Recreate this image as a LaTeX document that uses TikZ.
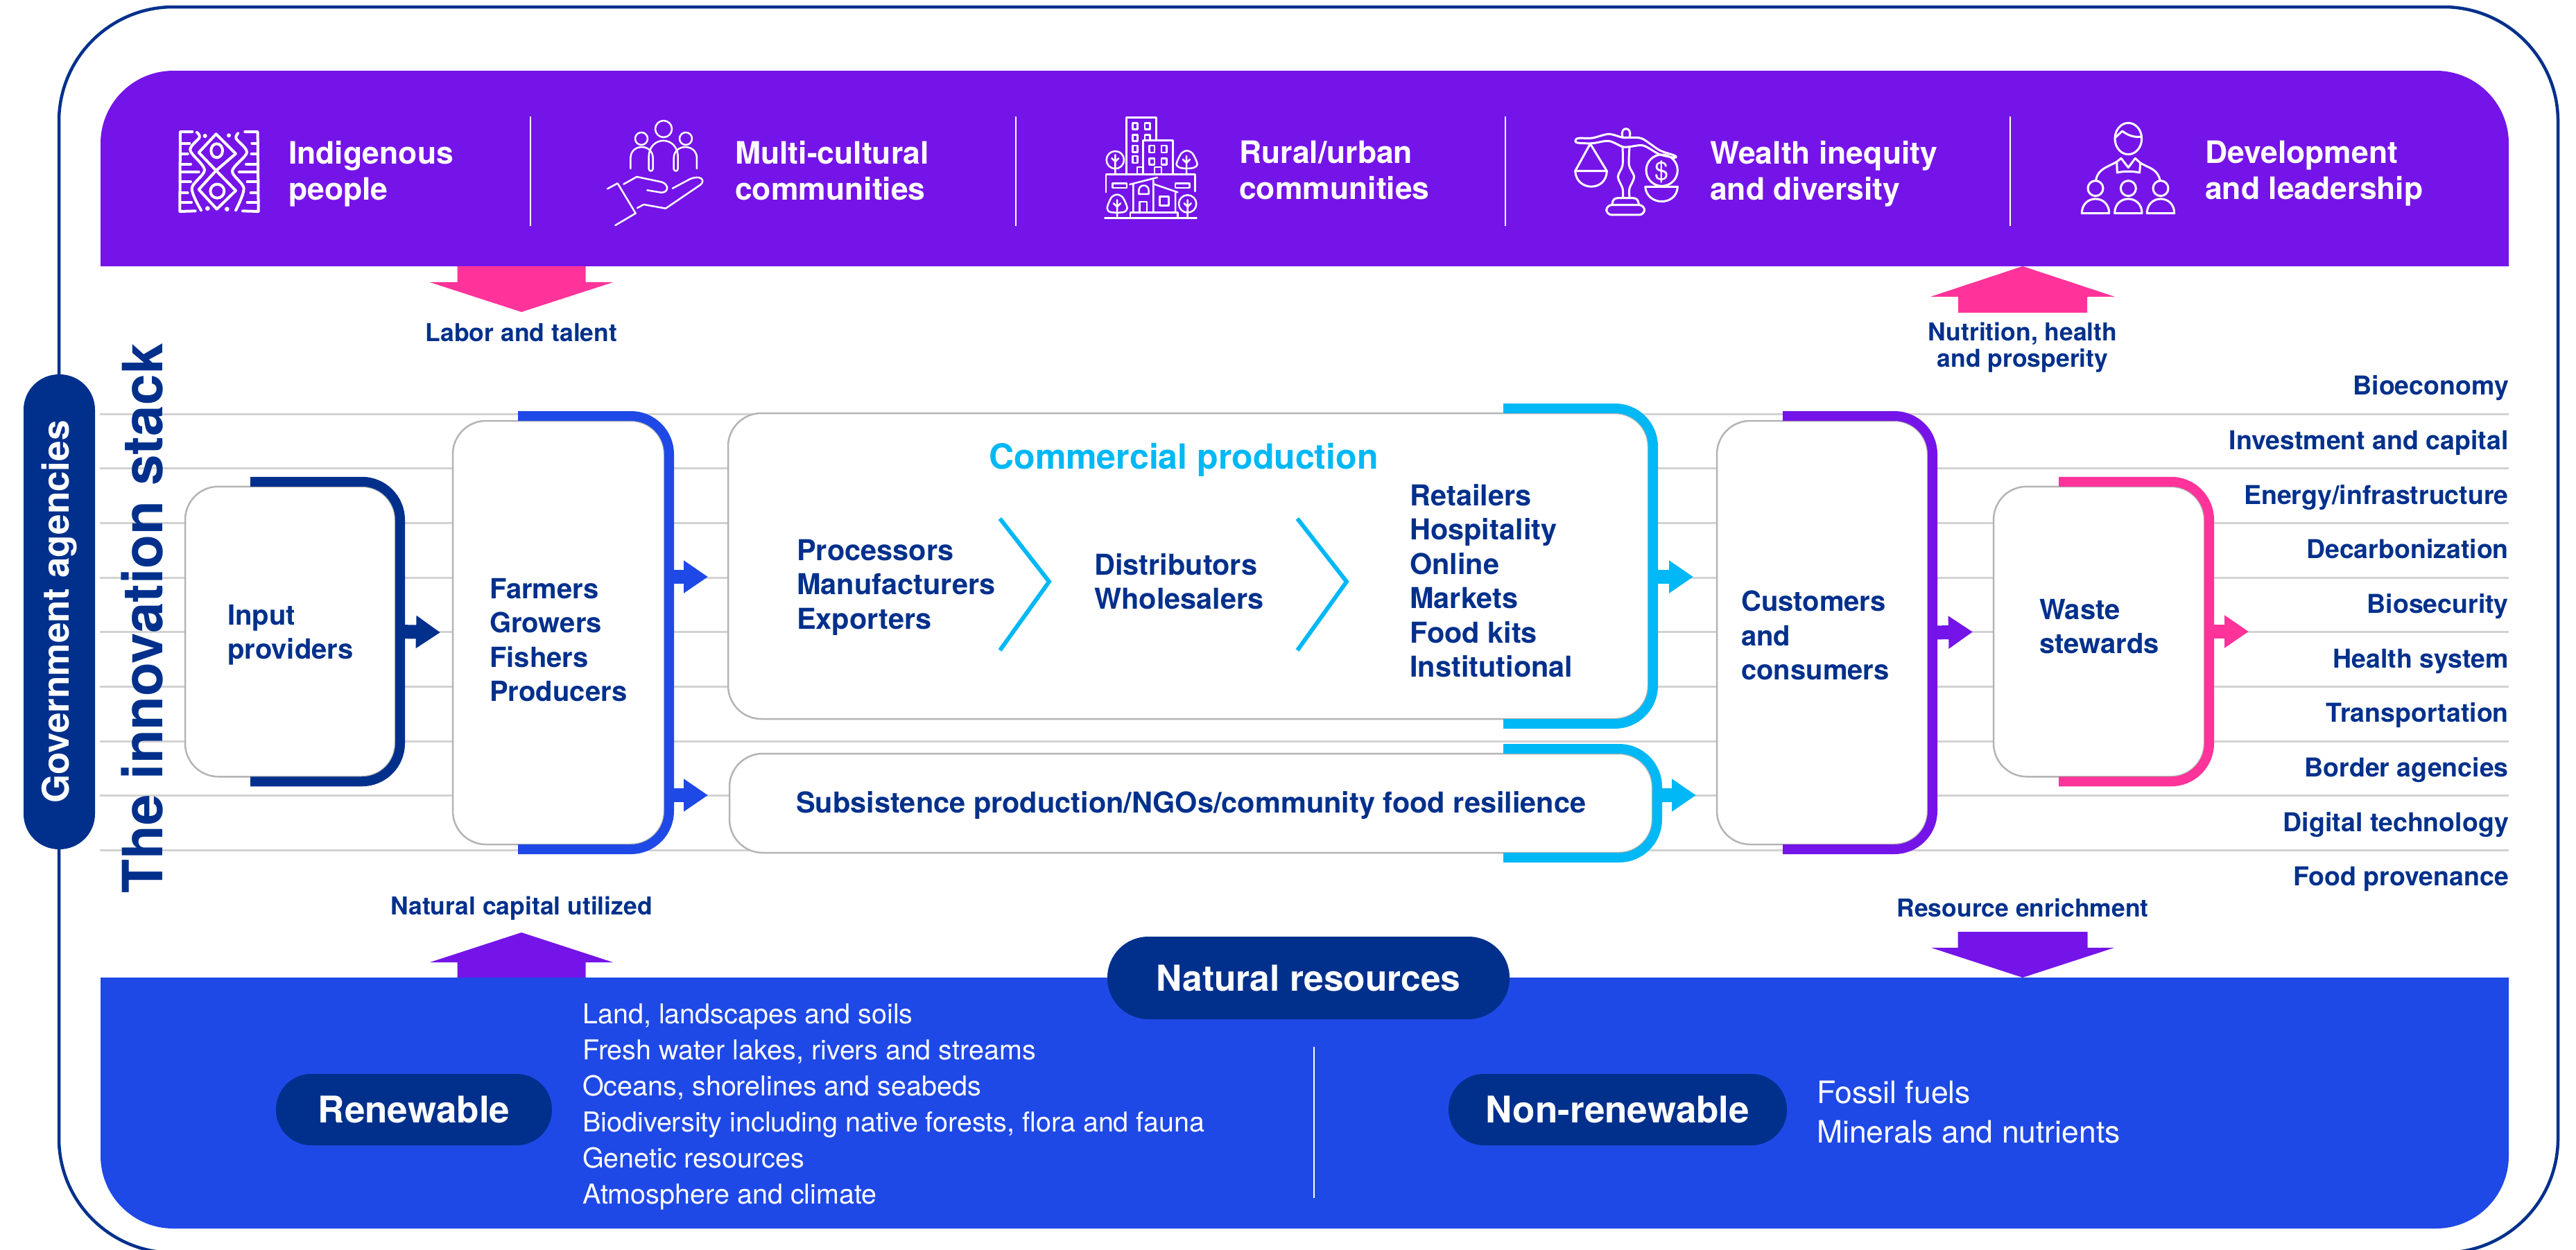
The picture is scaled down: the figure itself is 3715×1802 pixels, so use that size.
\documentclass[tikz,border=0pt]{standalone}
\usepackage{fontspec}
\setmainfont{TeX Gyre Heros}
\usetikzlibrary{arrows.meta}
\definecolor{stacknavy}{HTML}{00308C}
\definecolor{stackblue}{HTML}{1F49E6}
\definecolor{stackpurple}{HTML}{7514E8}
\definecolor{stackpink}{HTML}{FF3399}
\definecolor{stackcyan}{HTML}{00B8F5}
\definecolor{stackgrey}{HTML}{D2D2D2}
\definecolor{boxgrey}{HTML}{B4B4B4}
\tikzset{
  stackbox/.style={draw=boxgrey,fill=white,line width=2.5pt,rounded corners=48pt,outer sep=7pt,inner sep=0pt},
  bandline/.style={line width=14pt,rounded corners=55pt},
  flow/.style={line width=20pt,-{Triangle[length=35pt,width=45pt]},#1},
  boxtext/.style={anchor=north west,align=left,inner sep=0pt,text=stacknavy,font=\fontsize{40}{49.5}\selectfont\bfseries},
  commercialtext/.style={boxtext,font=\fontsize{41.5}{49.5}\selectfont\bfseries},
  flowtext/.style={align=center,inner sep=0pt,text=stacknavy,font=\fontsize{35.5}{38}\selectfont\bfseries},
  headtext/.style={anchor=north west,align=left,inner sep=0pt,text=white,font=\fontsize{44.5}{52}\selectfont\bfseries},
  listtext/.style={anchor=west,align=left,inner sep=0pt,text=white,font=\fontsize{39.5}{52}\selectfont},
  pilltext/.style={fill=stacknavy,text=white,inner sep=0pt,font=\fontsize{53}{53}\selectfont\bfseries},
  icon/.style={draw=white,line width=#1,line cap=round,line join=round},
}
\begin{document}
\begin{tikzpicture}[x=1pt,y=-1pt]
  \path[fill=white,use as bounding box] (0,0) rectangle (3715,1802);
  \draw[stacknavy,line width=4.5pt,rounded corners=165pt] (85,10) rectangle (3689,1807);
  % top and bottom bands
  \fill[stackpurple] (145,384) [rounded corners=105pt] -- (145,102) -- (3618,102) [sharp corners] -- (3618,384) -- cycle;
  \fill[stackblue] (145,1410) [rounded corners=105pt] -- (145,1772) -- (3618,1772) [sharp corners] -- (3618,1410) -- cycle;
  \foreach \x in {765,1465,2171,2899}
    \draw[white,line width=2pt] (\x,168) -- (\x,326);
  \draw[white,line width=2pt] (1895,1510) -- (1895,1728);
  \foreach \x/\t [count=\i] in {416/{Indigenous\\people},1060/{Multi-cultural\\communities},1787/{Rural/urban\\communities},2466/{Wealth inequity\\and diversity},3180/{Development\\and leadership}}
    \node[headtext] (head\i) at (\x,203) {\t};
  % big arrows
  \foreach \c/\x/\a/\b/\d/\s/\w in {
    stackpink/752/384/407/450/92.5/132.5,
    stackpink/2917/451/428/384/93/133,
    stackpurple/752/1410/1388/1345/92.5/132,
    stackpurple/2917/1344/1367/1410/93.5/132}
    \fill[\c] (\x-\s,\a) -- (\x-\s,\b) -- (\x-\w,\b) -- (\x,\d) -- (\x+\w,\b) -- (\x+\s,\b) -- (\x+\s,\a) -- cycle;
  \node[flowtext] (labor) at (752,480) {Labor and talent};
  \node[flowtext] (nutrition) at (2917,501) {Nutrition, health\\and prosperity};
  \node[flowtext] (capital) at (752,1310) {Natural capital utilized};
  \node[flowtext] (enrichment) at (2917,1309) {Resource enrichment};
  % the stack
  \foreach \i in {0,...,8}
    \draw[stackgrey,line width=3pt] (144,{597+78.7*\i}) -- (3618,{597+78.7*\i});
  \node[pilltext,rotate=90,minimum width=685pt,minimum height=103pt,rounded corners=51pt] (government) at (85.5,882.5) {Government agencies};
  \node[inner sep=0pt,anchor=base,rotate=90,text=stacknavy,font=\fontsize{80}{80}\selectfont\bfseries] (title) at (234,892) {The innovation stack};
  \foreach \t [count=\i] in {Bioeconomy,Investment and capital,Energy/infrastructure,Decarbonization,Biosecurity,Health system,Transportation,Border agencies,Digital technology,Food provenance}
    \node[anchor=mid east,inner sep=0pt,text=stacknavy,font=\fontsize{37.5}{40}\selectfont\bfseries] (sector\i) at (3618,{567+78.7*(\i-1)}) {\t};
  \node[stackbox,minimum width=303pt,minimum height=418.5pt] (input) at (418.5,911) {};
  \node[stackbox,minimum width=305pt,minimum height=611pt] (farmers) at (805.5,912.5) {};
  \node[stackbox,minimum width=1327pt,minimum height=441pt] (commercial) at (1713.5,816.5) {};
  \node[stackbox,minimum width=1331pt,minimum height=143pt] (subsistence) at (1717.5,1158.5) {};
  \node[stackbox,minimum width=304pt,minimum height=611pt] (customers) at (2628,912.5) {};
  \node[stackbox,minimum width=304pt,minimum height=418.5pt] (waste) at (3027,911) {};
  \foreach \n/\c/\s in {input/stacknavy/361,farmers/stackblue/747,commercial/stackcyan/2168,subsistence/stackcyan/2168,customers/stackpurple/2571,waste/stackpink/2969}
    \draw[bandline,\c] (\s,0 |- \n.north) -- (\n.north east) -- (\n.south east) -- (\s,0 |- \n.south);
  \coordinate (upperflow) at (0,832);
  \coordinate (lowerflow) at (0,1147);
  \coordinate (wasteend) at (3243,911);
  \draw[flow=stacknavy,shorten >=11pt] (input.east) -- (farmers.west);
  \draw[flow=stackblue,shorten >=22pt] (farmers.east |- upperflow) -- (commercial.west |- upperflow);
  \draw[flow=stackblue,shorten >=24pt] (farmers.east |- lowerflow) -- (subsistence.west |- lowerflow);
  \draw[flow=stackcyan,shorten >=27pt] (commercial.east |- upperflow) -- (customers.west |- upperflow);
  \draw[flow=stackcyan,shorten >=23pt] (subsistence.east |- lowerflow) -- (customers.west |- lowerflow);
  \draw[flow=stackpurple,shorten >=23pt] (customers.east) -- (waste.west);
  \draw[flow=stackpink] (waste.east) -- (wasteend);
  \node[boxtext] (inputtext) at (328,872) {Input\\providers};
  \node[boxtext] (farmerstext) at (706,834) {Farmers\\Growers\\Fishers\\Producers};
  \node[commercialtext] (processors) at (1149,778) {Processors\\Manufacturers\\Exporters};
  \node[commercialtext] (distributors) at (1578,798) {Distributors\\Wholesalers};
  \node[commercialtext] (retailers) at (2033,698) {Retailers\\Hospitality\\Online\\Markets\\Food kits\\Institutional};
  \node[commercialtext] (subsistencetext) at (1148,1141) {Subsistence production/NGOs/community food resilience};
  \node[boxtext] (customerstext) at (2511,852) {Customers\\and\\consumers};
  \node[boxtext] (wastetext) at (2941,864) {Waste\\stewards};
  \node[inner sep=0pt,text=stackcyan,font=\fontsize{50}{50}\selectfont\bfseries] (commercialtitle) at (1707,663) {Commercial production};
  \foreach \x in {1442,1871}
    \draw[stackcyan,line width=6pt] (\x,748) -- (\x+71,839) -- (\x,938);
  % natural resources
  \node[pilltext,minimum width=580pt,minimum height=119pt,rounded corners=59pt,font=\fontsize{51.5}{51.5}\selectfont\bfseries] (natural) at (1887,1410.5) {Natural resources};
  \node[pilltext,minimum width=398pt,minimum height=103pt,rounded corners=51pt] (renewable) at (597,1600.5) {Renewable};
  \node[pilltext,minimum width=488pt,minimum height=103pt,rounded corners=51pt] (nonrenewable) at (2333,1600.5) {Non-renewable};
  \node[listtext] (renewablelist) at (840,1596.5) {Land, landscapes and soils\\Fresh water lakes, rivers and streams\\Oceans, shorelines and seabeds\\Biodiversity including native forests, flora and fauna\\Genetic resources\\Atmosphere and climate};
  \node[listtext,font=\fontsize{44.5}{57}\selectfont] (nonrenewablelist) at (2620,1604) {Fossil fuels\\Minerals and nutrients};
  % icons
  \begin{scope}[shift={(240,165)},x=0.3333pt,y=-0.3333pt]
    \draw[icon=4pt] (112,75) -- (60,75) -- (58,420) -- (125,418);
    \draw[icon=4pt] (340,75) -- (395,75) -- (398,420) -- (330,418);
    \foreach \y/\l/\r in {125/100/370,170/92/368,215/105/345,250/140/315,292/105/350,340/92/365,380/108/350}
      \draw[icon=4pt] (60,\y) -- (\l,\y) (396,\y) -- (\r,\y);
    \draw[icon=4pt] plot[smooth] coordinates {(132,78) (143,100) (103,155) (165,240) (110,320) (150,415)};
    \draw[icon=4pt] plot[smooth] coordinates {(310,82) (302,105) (348,165) (285,245) (335,320) (300,415)};
    \draw[icon=4pt] (215,85) -- (300,170) -- (215,243) -- (140,165) -- cycle;
    \draw[icon=4pt] (215,243) -- (300,330) -- (218,410) -- (140,325) -- cycle;
    \draw[icon=4pt] (218,157) ellipse[x radius=25,y radius=30];
    \draw[icon=4pt] (220,332) circle[radius=30];
    \fill[white] (167,93) circle[radius=9] (270,91) circle[radius=9] (178,407) circle[radius=10] (262,410) circle[radius=10];
  \end{scope}
  \begin{scope}[shift={(870,165)},x=0.3333pt,y=-0.3333pt]
    \draw[icon=2.5pt] (261,63) circle[radius=36] (165,105) circle[radius=27] (357,105) circle[radius=27];
    \draw[icon=2.5pt] (118,235) -- (118,190) .. controls (118,125) and (215,125) .. (215,190) -- (215,235) .. controls (215,248) and (197,248) .. (197,235) -- (197,185) .. controls (197,90) and (323,90) .. (323,185) -- (323,235) .. controls (323,248) and (305,248) .. (305,235) -- (305,190) .. controls (305,125) and (405,125) .. (405,190) -- (405,235);
    \draw[icon=2.5pt] (88,302) -- (145,270) -- (250,292) .. controls (285,300) and (285,340) .. (250,338) -- (190,328);
    \draw[icon=2.5pt] (300,320) -- (375,280) .. controls (420,260) and (445,285) .. (420,305) -- (270,407) -- (175,390) -- (147,405);
    \draw[icon=2.5pt] (18,322) -- (62,298) -- (140,428) -- (52,480);
  \end{scope}
  \begin{scope}[shift={(1580,160)},x=0.3333pt,y=-0.3333pt]
    \draw[icon=2.5pt] (133,275) -- (133,28) -- (262,28) -- (262,128);
    \draw[icon=2.5pt] (205,275) -- (205,128) -- (335,128) -- (335,275);
    \draw[icon=2.5pt] (160,52) rectangle (182,80) (213,52) rectangle (236,80) (160,103) rectangle (182,130) (160,150) rectangle (182,178) (160,195) rectangle (182,225);
    \draw[icon=2.5pt] (213,128) -- (213,103) -- (236,103) -- (236,128);
    \draw[icon=2.5pt] (232,150) rectangle (255,180) (285,150) rectangle (308,180) (232,205) rectangle (255,232) (285,205) rectangle (308,232);
    \draw[icon=2.5pt] (180,275) -- (180,243) -- (205,243) (255,275) -- (255,243) -- (285,243) -- (285,275);
    \draw[icon=2.5pt] (45,352) -- (45,275) -- (430,275) -- (430,348);
    \draw[icon=2.5pt] (73,313) rectangle (135,333) (345,313) rectangle (407,333);
    \draw[icon=2.5pt] (85,212) circle[radius=38] (398,402) circle[radius=38];
    \draw[icon=2.5pt] plot[smooth cycle] coordinates {(395,172) (420,185) (440,230) (420,247) (370,247) (350,230) (370,185)};
    \draw[icon=2.5pt] plot[smooth cycle] coordinates {(93,362) (118,375) (137,420) (120,438) (65,438) (50,420) (68,375)};
    \foreach \x/\y/\b in {85/190/275,393/195/275,93/385/464,398/385/464}
      \draw[icon=2.5pt] (\x,\y) -- (\x,\b) (\x-15,\y+15) -- (\x,\y+30) -- (\x+15,\y+15);
    \draw[icon=2.5pt] (148,318) -- (267,288) (163,318) -- (163,440) (250,300) -- (250,440) (250,316) -- (355,352) (345,350) -- (345,440);
    \draw[icon=2.5pt] (187,360) -- (187,345) .. controls (187,315) and (230,315) .. (230,345) -- (230,360) -- cycle;
    \draw[icon=2.5pt] (190,440) -- (190,393) -- (222,393) -- (222,440) (277,370) rectangle (317,410);
    \draw[icon=2.5pt] (150,462) -- (150,440) -- (355,440) -- (355,462) (40,464) -- (437,464);
  \end{scope}
  \begin{scope}[shift={(2260,175)},x=0.3333pt,y=-0.3333pt]
    \draw[icon=3pt] plot[smooth cycle] coordinates {(36,82) (50,73) (110,72) (180,55) (240,70) (272,70) (325,75) (400,125) (465,148) (465,157) (400,143) (330,105) (270,110) (240,110) (180,85) (110,95) (45,93)};
    \draw[icon=3pt] (240,68) .. controls (225,20) and (285,20) .. (270,68);
    \draw[icon=3pt] plot[smooth] coordinates {(240,112) (240,190) (220,240) (240,290) (242,328)};
    \draw[icon=3pt] plot[smooth] coordinates {(270,112) (268,190) (290,240) (270,290) (270,328)};
    \draw[icon=3pt] (195,358) .. controls (197,340) and (205,332) .. (220,332) -- (285,332) .. controls (300,332) and (308,340) .. (310,358);
    \draw[icon=3pt,rounded corners=8pt] (170,362) rectangle (335,405);
    \draw[icon=3pt] (100,97) -- (35,215) -- (172,215) -- cycle;
    \draw[icon=3pt] (35,215) .. controls (40,305) and (170,305) .. (172,215);
    \draw[icon=3pt] (410,212) circle[radius=68];
    \draw[icon=3pt] (338,283) -- (478,283) .. controls (475,368) and (345,368) .. (338,283);
    \node[inner sep=0pt,text=white,font=\fontsize{36}{36}\selectfont] (dollar) at (410,218) {\$};
  \end{scope}
  \begin{scope}[shift={(2990,165)},x=0.3333pt,y=-0.3333pt]
    \draw[icon=3pt] (238,105) ellipse[x radius=58,y radius=68];
    \draw[icon=3pt] (182,100) -- (212,72) .. controls (235,90) and (260,100) .. (295,97);
    \draw[icon=3pt] (188,205) -- (207,190) -- (238,230) -- (268,190) -- (290,210) -- (287,252) .. controls (255,245) and (220,245) .. (190,252) -- cycle;
    \draw[icon=3pt] (188,205) .. controls (150,228) and (105,235) .. (98,285);
    \draw[icon=3pt] (290,210) .. controls (325,232) and (365,235) .. (375,285);
    \foreach \x in {96,238,378} {
      \draw[icon=3pt] (\x,320) circle[radius=33];
      \draw[icon=3pt] (\x-59,428) .. controls (\x-59,345) and (\x+59,345) .. (\x+59,428) -- cycle;
    }
  \end{scope}
\end{tikzpicture}
\end{document}
